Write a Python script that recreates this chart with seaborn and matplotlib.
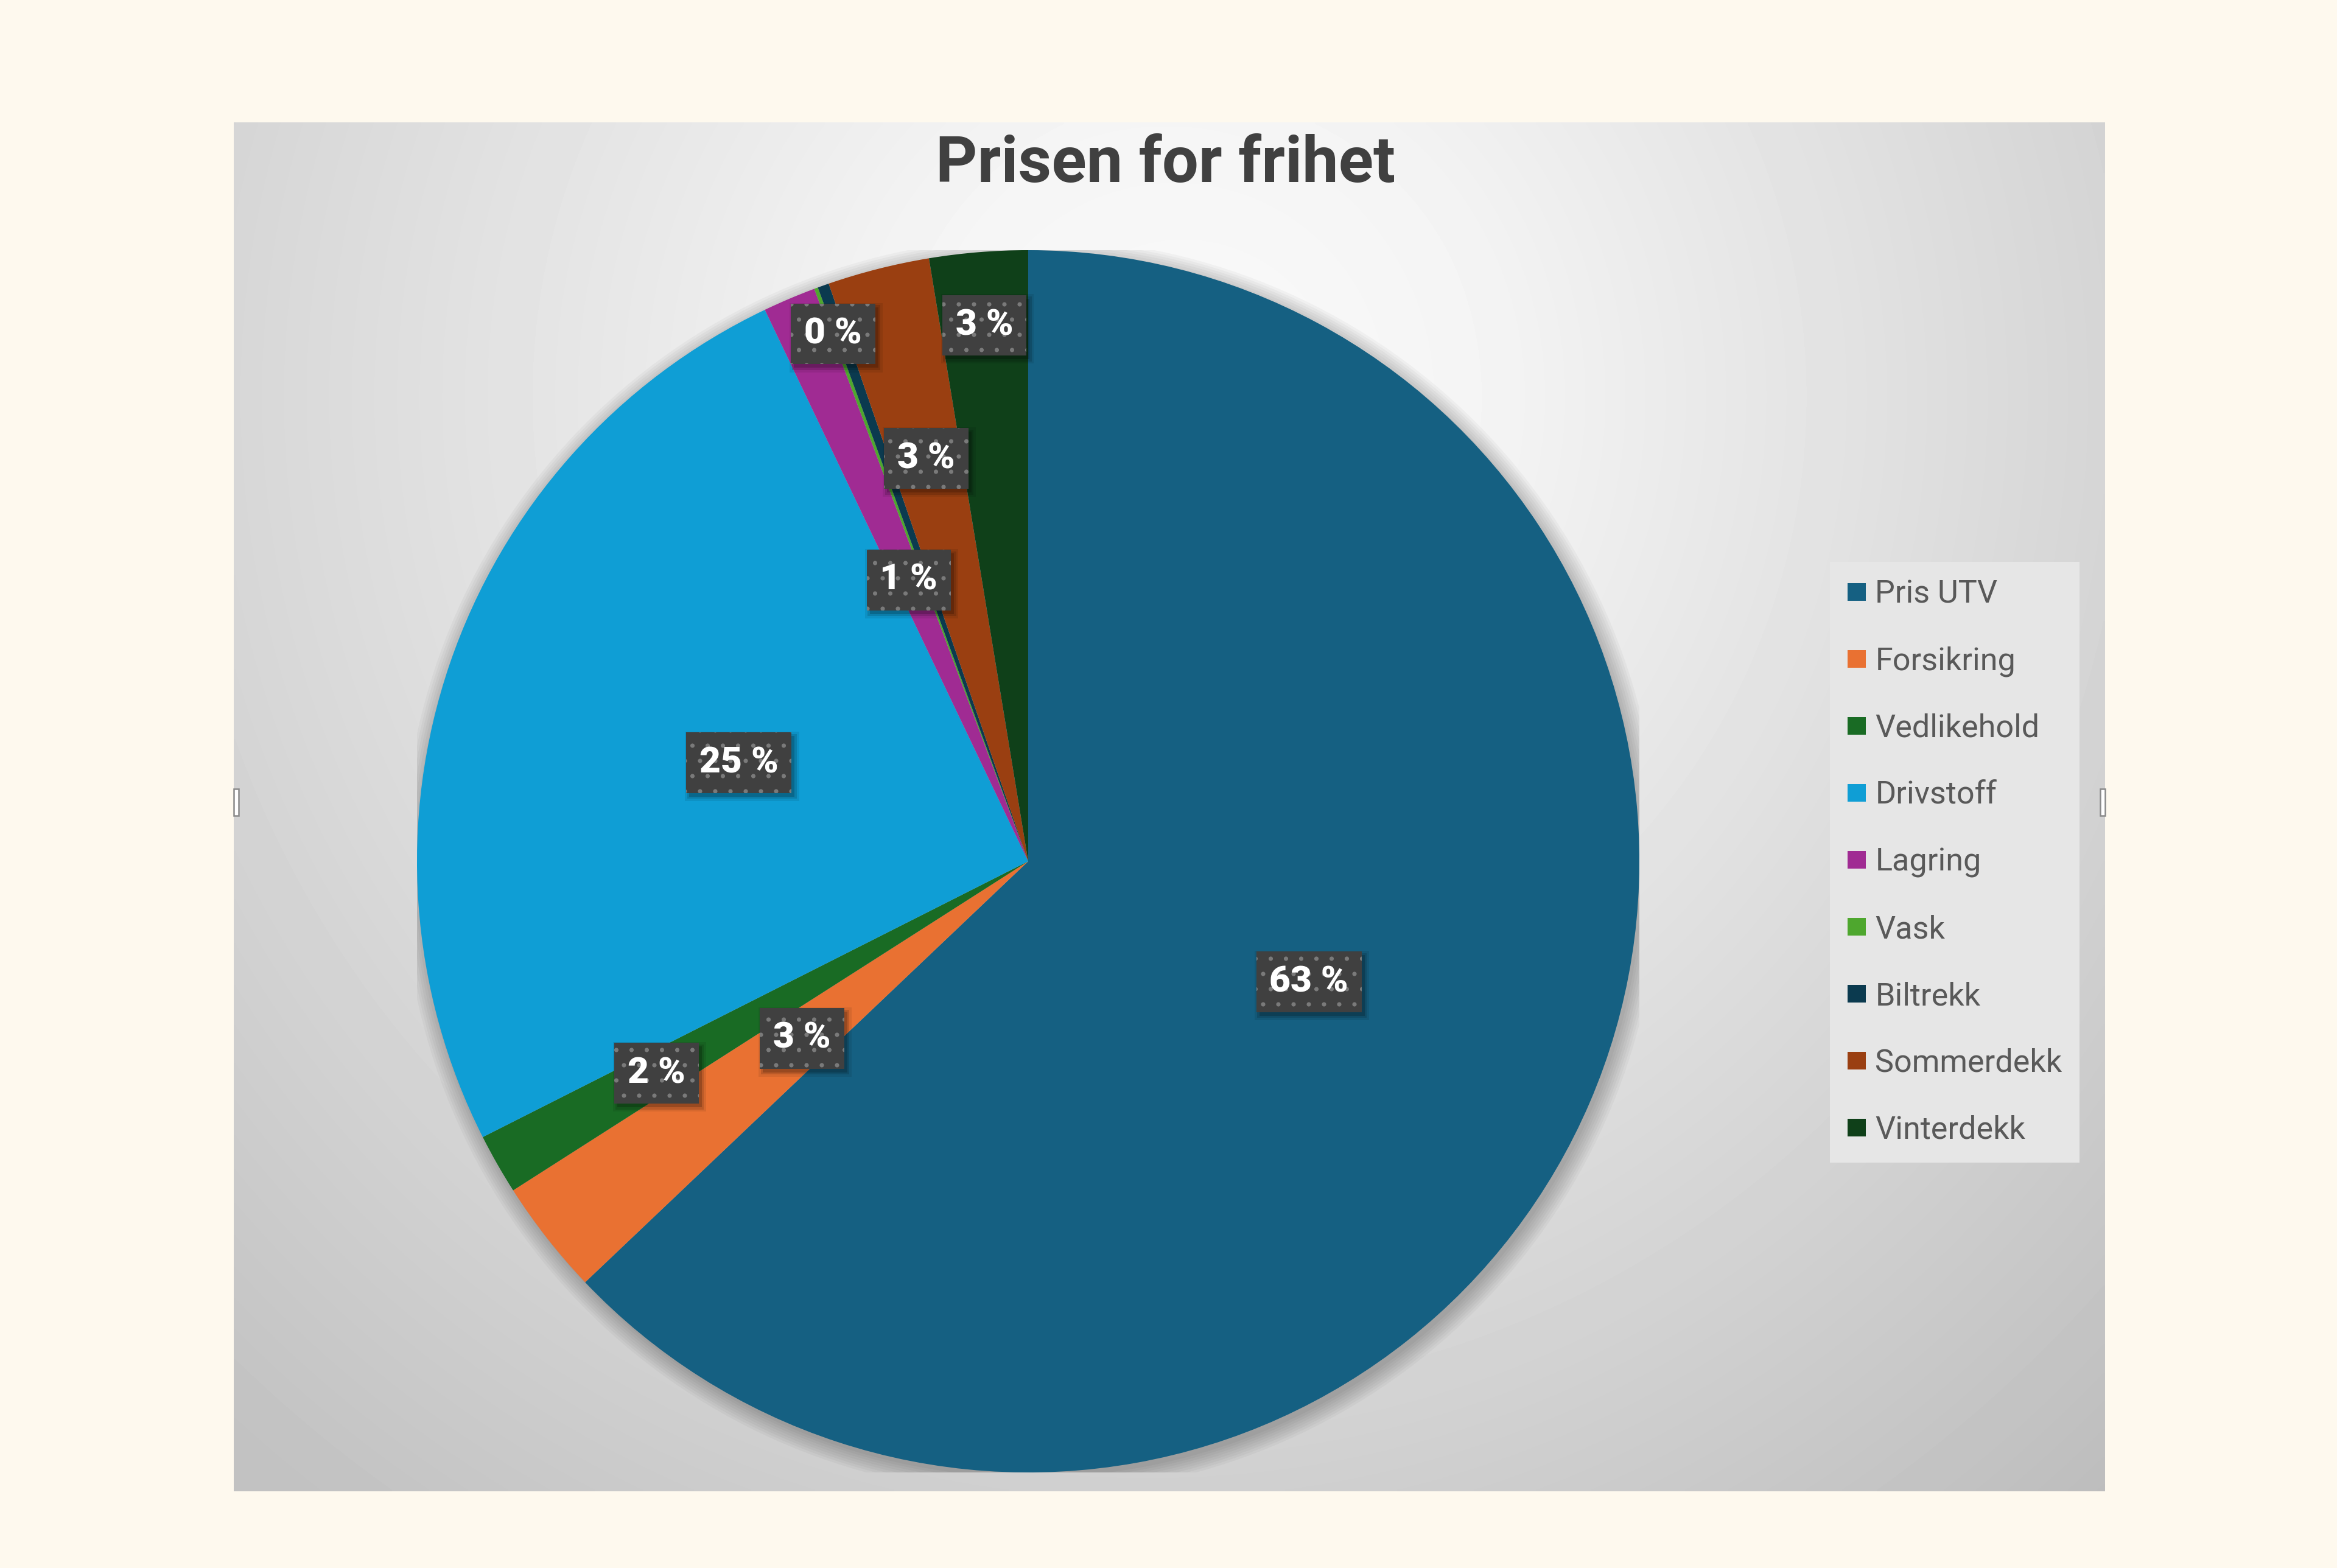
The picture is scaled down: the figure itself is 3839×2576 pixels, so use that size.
import numpy as np
import matplotlib
matplotlib.use('Agg')
import matplotlib.pyplot as plt
import matplotlib.transforms as mtransforms
from matplotlib.patches import Rectangle, Circle, Patch
import seaborn as sns

# Data (andeler lest av figuren, i prosent)
kategorier = ['Pris UTV', 'Forsikring', 'Vedlikehold', 'Drivstoff', 'Lagring',
              'Vask', 'Biltrekk', 'Sommerdekk', 'Vinterdekk']
andel = [63.0, 3.05, 1.6, 25.4, 1.4, 0.1, 0.3, 2.7, 2.6]
farger = ['#156082', '#E97132', '#196B24', '#0F9ED5', '#A02B93',
          '#4EA72E', '#0B3A4F', '#9A3F11', '#0F4019']
tittel = 'Prisen for frihet'

# avstand fra sentrum for etikettene (None = ingen etikett)
etikett_avstand = [0.5, 0.47, 0.70, 0.5, 0.5, 0.92, None, 0.68, 0.88]

W, H, DPI = 3839, 2576, 150

sns.set_theme(style='white')
plt.rcParams['font.family'] = ['Roboto', 'DejaVu Sans']

fig = plt.figure(figsize=(W / DPI, H / DPI), dpi=DPI, facecolor='#FEF9EE')

# diagramomraade med graa gradient
x0, x1 = 384, 3458
y0, y1 = 201, 2450
bw, bh = x1 - x0, y1 - y0
bg = fig.add_axes([x0 / W, 1 - y1 / H, bw / W, bh / H])
xx, yy = np.meshgrid(np.linspace(0, 1, 600), np.linspace(0, 1, 450))
d = np.hypot((xx - 0.52) / 0.5, (yy - 0.2) / 0.7)
v = np.interp(d, [0, 0.3, 1.0, 1.5], [0.99, 0.97, 0.85, 0.76]) - 0.02 * xx
bg.imshow(v, cmap='gray', vmin=0, vmax=1, extent=[0, 1, 1, 0],
          aspect='auto', interpolation='bilinear')
bg.axis('off')

# kakediagram
cx, cy, r = 1689, 1415, 1004
ax = fig.add_axes([(cx - r) / W, 1 - (cy + r) / H, 2 * r / W, 2 * r / H])
wedges, _ = ax.pie(andel, colors=farger, startangle=90, counterclock=False,
                   radius=1, wedgeprops=dict(linewidth=0))
for k in range(8):
    ax.add_patch(Circle((0.005, -0.008), 1.0 + 0.004 * k, color='black',
                        alpha=0.03, lw=0, zorder=0))
ax.set_xlim(-1, 1)
ax.set_ylim(-1, 1)
ax.axis('off')

skygge = mtransforms.offset_copy(ax.transData, fig=fig, x=5, y=-6, units='dots')
tot = sum(andel)
for w, a, dist in zip(wedges, andel, etikett_avstand):
    if dist is None:
        continue
    th = np.deg2rad((w.theta1 + w.theta2) / 2)
    lx, ly = dist * np.cos(th), dist * np.sin(th)
    tekst = f'{round(a / tot * 100)} %'
    for i, p in enumerate([0.48, 0.42, 0.36]):
        ax.text(lx, ly, tekst, transform=skygge, ha='center', va='center',
                color='none', fontsize=29, fontweight='black', zorder=4,
                bbox=dict(boxstyle=f'square,pad={p}', fc='black', ec='none',
                          alpha=0.08 + 0.05 * i))
    ax.text(lx, ly, tekst, ha='center', va='center', color='white',
            fontsize=29, fontweight='black', zorder=5,
            bbox=dict(boxstyle='square,pad=0.36', fc='#404040',
                      ec='#7a7a7a', lw=0, hatch='.'))

# tittel
fig.text(0.4987, 1 - 299 / H, tittel, ha='center', va='baseline',
         fontsize=51, fontweight='bold', color='#404040')

# forklaring
handles = [Patch(facecolor=c, edgecolor='none') for c in farger]
leg = fig.legend(handles, kategorier, loc='upper left',
                 bbox_to_anchor=(3006 / W, 1 - 923 / H),
                 bbox_transform=fig.transFigure, frameon=True, fontsize=25,
                 handlelength=0.58, handleheight=0.48, handletextpad=0.3,
                 labelspacing=1.15, borderpad=0.55, borderaxespad=0,
                 fancybox=False, facecolor='#E6E6E6', edgecolor='none',
                 framealpha=1, labelcolor='#595959')

# smaa markeringshaandtak paa kantene
for hx in (384, 3450):
    fig.add_artist(Rectangle((hx / W, 1 - 1340 / H), 8 / W, 44 / H,
                             transform=fig.transFigure, fc='white',
                             ec='#8a8a8a', lw=1.2))

fig.savefig('out.png', dpi=DPI, facecolor=fig.get_facecolor())
